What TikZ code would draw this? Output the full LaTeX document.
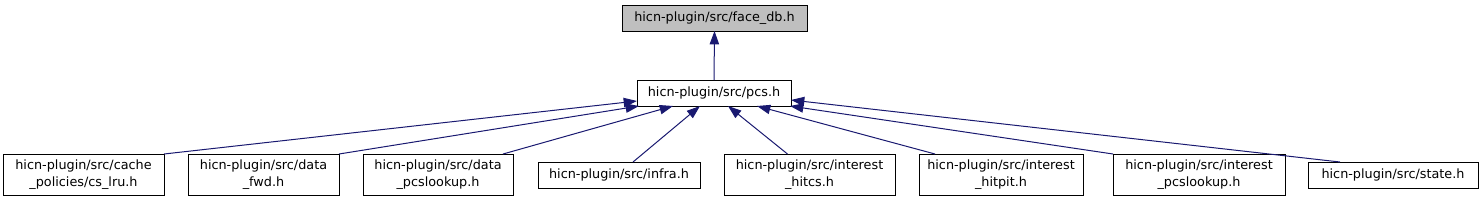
\documentclass[tikz,border=0pt]{standalone}
\usepackage{fontspec}
\setmainfont{DejaVu Sans}
\usetikzlibrary{calc,arrows.meta}
\definecolor{edgeblue}{HTML}{191970}
\definecolor{curfill}{HTML}{BFBFBF}
\tikzset{
  filebox/.style={draw=black, line width=0.75pt, fill=white, inner sep=0pt, outer sep=0pt,
    align=center, font=\fontsize{9.6}{12.5}\selectfont},
  curbox/.style={filebox, fill=curfill},
  bw/.style={minimum width={#1*0.75pt}},
  bh/.style={minimum height={#1*0.75pt}},
  dep/.style={draw=edgeblue, line width=0.75pt, -{Triangle[length=10pt,width=7pt]}},
}
\begin{document}
\begin{tikzpicture}[x=0.75pt,y=-0.75pt]
\useasboundingbox (0,0) rectangle (1481,201);
\node[curbox, bw=185, bh=26] (face) at (714.5,18) {hicn-plugin/src/face\_db.h};
\node[filebox, bw=154, bh=26] (pcs) at (714,93) {hicn-plugin/src/pcs.h};
\node[filebox, bw=161, bh=41] (cache) at (83.5,174.5) {hicn-plugin/src/cache\\\_policies/cs\_lru.h};
\node[filebox, bw=151, bh=41] (fwd) at (263.5,174.5) {hicn-plugin/src/data\\\_fwd.h};
\node[filebox, bw=150, bh=41] (dpcs) at (438,174.5) {hicn-plugin/src/data\\\_pcslookup.h};
\node[filebox, bw=162, bh=26] (infra) at (619,175) {hicn-plugin/src/infra.h};
\node[filebox, bw=171, bh=41] (hitcs) at (809.5,174.5) {hicn-plugin/src/interest\\\_hitcs.h};
\node[filebox, bw=164, bh=41] (hitpit) at (1001,174.5) {hicn-plugin/src/interest\\\_hitpit.h};
\node[filebox, bw=172, bh=41] (ipcs) at (1199,174.5) {hicn-plugin/src/interest\\\_pcslookup.h};
\node[filebox, bw=170, bh=26] (state) at (1393,175) {hicn-plugin/src/state.h};

\draw[dep] (pcs.north) -- (face.south);
\draw[dep] (cache.north east) -- ($(pcs.west)+(0,8)$);
\draw[dep] (fwd.north east) -- ($(pcs.south west)+(2,0)$);
\draw[dep] ($(dpcs.north east)+(-10,0)$) -- ($(pcs.south)+(-41,0)$);
\draw[dep] ($(infra.north)+(14,0)$) -- ($(pcs.south)+(-14,0)$);
\draw[dep] ($(hitcs.north)+(-22,0)$) -- ($(pcs.south)+(14,0)$);
\draw[dep] ($(hitpit.north west)+(16,0)$) -- ($(pcs.south)+(43,0)$);
\draw[dep] (ipcs.north west) -- ($(pcs.south east)+(-1,0)$);
\draw[dep] ($(state.north west)+(32,0)$) -- ($(pcs.east)+(0,7)$);
\end{tikzpicture}
\end{document}
